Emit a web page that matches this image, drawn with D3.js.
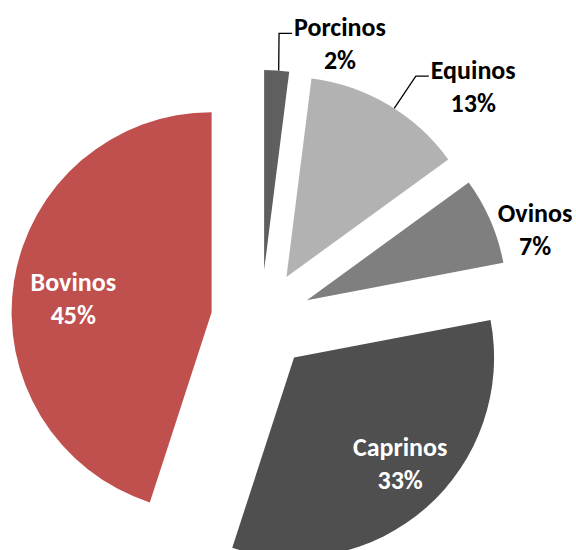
<!DOCTYPE html>
<html>
<head>
<meta charset="utf-8">
<script src="https://cdn.jsdelivr.net/npm/d3@7"></script>
<style>
  html, body { margin: 0; padding: 0; background: #fff; }
  svg text { font-family: Carlito, Calibri, Lato, sans-serif; font-weight: bold; }
</style>
</head>
<body>
<div id="chart"></div>
<script>
// data, clockwise from 12 o'clock
const categories = ["Porcinos", "Equinos", "Ovinos", "Caprinos", "Bovinos"];
const shares = [2, 13, 7, 33, 45];
const colors = ["#5f5f5f", "#b2b2b2", "#7f7f7f", "#4f4f4f", "#c0504d"];

const cfg = {
  w: 576,
  h: 550,
  cx: 261,          // pie centre
  cy: 320,
  radius: 200,
  explode: 50,      // distance each slice is pulled out
  fontSize: 26,
  lineGap: 33
};

// label placement relative to each exploded slice tip: [angle deg, distance px, outside?]
const labelPlace = [
  [18.5, 239, true],
  [44.4, 267, true],
  [72.7, 239, true],
  [135, 150, false],
  [275.8, 139, false]
];
// leader line start: angle shift (rad) from slice middle, null = no leader
const leader = [0.01, 0.035, null, null, null];

const svg = d3.select("#chart").append("svg")
    .attr("width", cfg.w)
    .attr("height", cfg.h);

const g = svg.append("g")
    .attr("transform", "translate(" + cfg.cx + "," + cfg.cy + ")");

const pie = d3.pie().sort(null).value(d => d);
const arcs = pie(shares);

const arc = d3.arc().innerRadius(0).outerRadius(cfg.radius);

// polar helper, angle in radians clockwise from top
const polar = (a, r) => [r * Math.sin(a), -r * Math.cos(a)];

arcs.forEach(function(d, i) {
  const mid = (d.startAngle + d.endAngle) / 2;
  const off = polar(mid, cfg.explode);
  const slice = g.append("g")
      .attr("transform", "translate(" + off[0] + "," + off[1] + ")");

  slice.append("path")
      .attr("d", arc(d))
      .attr("fill", colors[i]);

  const lp = labelPlace[i];
  const pos = polar(lp[0] * Math.PI / 180, lp[1]);
  const fill = lp[2] ? "#000" : "#fff";

  const txt = slice.append("text")
      .attr("text-anchor", "middle")
      .style("font-size", cfg.fontSize + "px")
      .attr("fill", fill);
  txt.append("tspan")
      .attr("x", pos[0])
      .attr("y", pos[1] - cfg.lineGap / 2)
      .attr("dy", "0.35em")
      .text(categories[i]);
  txt.append("tspan")
      .attr("x", pos[0])
      .attr("y", pos[1] + cfg.lineGap / 2)
      .attr("dy", "0.35em")
      .text(shares[i] + "%");

  if (leader[i] !== null) {
    const bb = txt.node().getBBox();
    const start = polar(mid + leader[i], cfg.radius);
    const ly = pos[1] - 10;
    const endX = bb.x - 2;
    slice.append("polyline")
        .attr("points", [start, [endX - 13, ly], [endX, ly]].map(p => p.join(",")).join(" "))
        .attr("fill", "none")
        .attr("stroke", "#000")
        .attr("stroke-width", 1.3);
  }
});
</script>
</body>
</html>
